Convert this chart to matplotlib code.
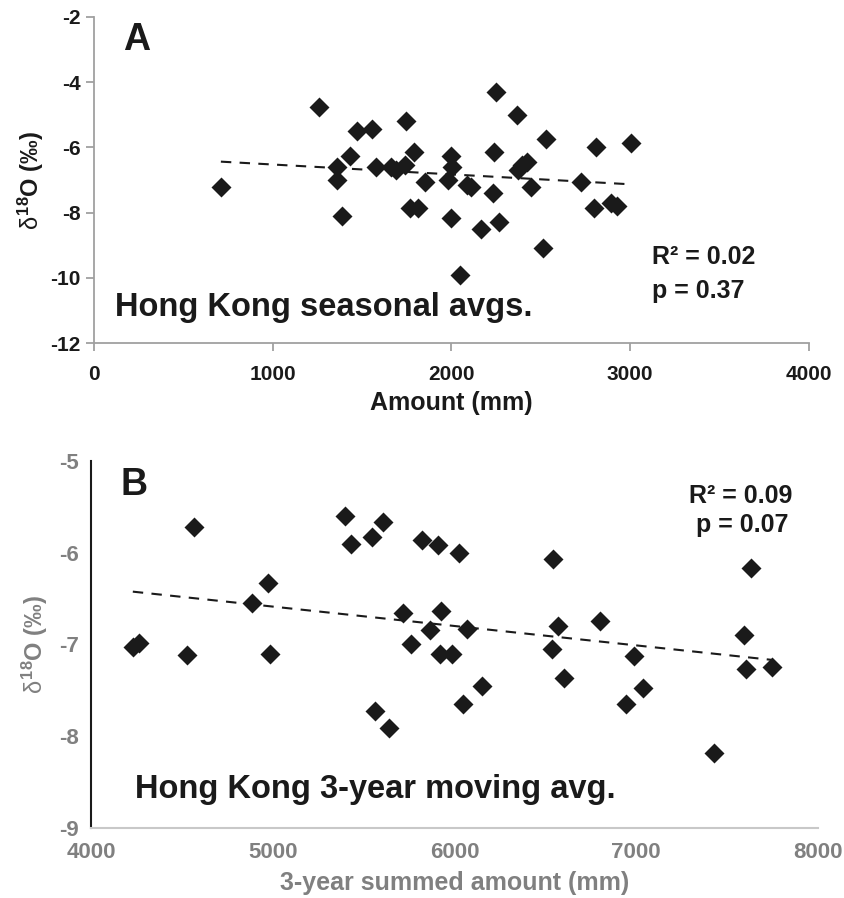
import numpy as np
import matplotlib
matplotlib.use("Agg")
import matplotlib.pyplot as plt

# Panel A: seasonal averages
amount_a = [710, 1260, 1470, 1555, 1745, 1430, 1360, 1360, 1390, 1580,
            1660, 1690, 1740, 1790, 1770, 1810, 1850, 1995, 2005, 1980,
            1995, 2085, 2110, 2050, 2165, 2250, 2240, 2235, 2265, 2365,
            2370, 2395, 2420, 2445, 2530, 2510, 2725, 2810, 2800, 2890,
            2925, 3005]
d18o_a = [-7.2, -4.75, -5.5, -5.45, -5.2, -6.25, -6.6, -7.0, -8.1, -6.6,
          -6.6, -6.7, -6.55, -6.15, -7.85, -7.85, -7.05, -6.25, -6.6, -7.0,
          -8.15, -7.15, -7.2, -9.9, -8.5, -4.3, -6.15, -7.4, -8.3, -5.0,
          -6.7, -6.55, -6.45, -7.2, -5.75, -9.1, -7.05, -6.0, -7.85, -7.7,
          -7.8, -5.85]

# Panel B: 3-year moving average
amount_b = [4230, 4265, 4565, 4530, 4885, 4975, 4985, 5400, 5430, 5545,
            5605, 5565, 5640, 5715, 5760, 5820, 5910, 6025, 6540, 7630,
            5925, 5865, 5920, 5985, 6070, 6150, 6045, 6570, 6535, 6605,
            6800, 6985, 7035, 6945, 7425, 7595, 7605, 7745]
d18o_b = [-7.03, -6.98, -5.72, -7.12, -6.55, -6.33, -7.1, -5.6, -5.9, -5.83,
          -5.66, -7.72, -7.91, -6.66, -6.99, -5.86, -5.92, -6.0, -6.07, -6.17,
          -6.63, -6.84, -7.1, -7.1, -6.83, -7.45, -7.65, -6.8, -7.05, -7.37,
          -6.74, -7.13, -7.47, -7.65, -8.18, -6.9, -7.27, -7.25]

stats_a = ["R² = 0.02", "p = 0.37"]
stats_b = ["R² = 0.09", "p = 0.07"]

plt.rcParams["font.family"] = ["Liberation Sans", "DejaVu Sans"]
plt.rcParams["axes.unicode_minus"] = False
plt.rcParams["mathtext.fontset"] = "custom"
plt.rcParams["mathtext.rm"] = "Liberation Sans"
plt.rcParams["mathtext.it"] = "Liberation Sans"
plt.rcParams["mathtext.bf"] = "Liberation Sans:bold"

INK = "#1a1a1a"
ylab = r"$\delta^{\mathbf{18}}$O (‰)"

fig = plt.figure(figsize=(8.45, 8.98), dpi=100)

# ---- Panel A ----
ax1 = fig.add_axes([0.1112, 0.618, 0.8462, 0.3631])
ax1.plot(amount_a, d18o_a, "D", color=INK, ms=10.5, mec="none")
xa = np.array(amount_a, dtype=float)
ka, ba = np.polyfit(xa, d18o_a, 1)
xx = np.array([xa.min(), xa.max()])
ax1.plot(xx, ka * xx + ba, "--", color=INK, lw=1.5, dashes=(5, 4))
ax1.set_xlim(0, 4000)
ax1.set_ylim(-12, -2)
ax1.set_xticks([0, 1000, 2000, 3000, 4000])
ax1.set_yticks([-12, -10, -8, -6, -4, -2])
for s in ["top", "right"]:
    ax1.spines[s].set_visible(False)
for s in ["left", "bottom"]:
    ax1.spines[s].set_color("#a0a0a0")
    ax1.spines[s].set_linewidth(1.3)
ax1.tick_params(axis="both", color="#a0a0a0", width=1.3, length=6, direction="out")
ax1.tick_params(axis="x", pad=10)
for lab in ax1.get_xticklabels() + ax1.get_yticklabels():
    lab.set_fontweight("bold")
    lab.set_fontsize(15)
    lab.set_color(INK)
ax1.set_xlabel("Amount (mm)", fontweight="bold", fontsize=18, color=INK, labelpad=5)
ax1.set_ylabel(ylab, fontweight="bold", fontsize=17, color=INK, labelpad=3)
ax1.text(0.04, 0.93, "A", transform=ax1.transAxes, fontsize=27, fontweight="bold",
         color=INK, va="center", ha="left")
ax1.text(0.03, 0.11, "Hong Kong seasonal avgs.", transform=ax1.transAxes,
         fontsize=23.5, fontweight="bold", color=INK, va="center", ha="left")
ax1.text(0.781, 0.265, stats_a[0], transform=ax1.transAxes, fontsize=18,
         fontweight="bold", color=INK, va="center", ha="left")
ax1.text(0.780, 0.16, stats_a[1], transform=ax1.transAxes, fontsize=18,
         fontweight="bold", color=INK, va="center", ha="left")

# ---- Panel B ----
ax2 = fig.add_axes([0.1077, 0.078, 0.8604, 0.4087])
ax2.plot(amount_b, d18o_b, "D", color=INK, ms=10.5, mec="none")
xb = np.array(amount_b, dtype=float)
kb, bb = np.polyfit(xb, d18o_b, 1)
xx = np.array([xb.min(), xb.max()])
ax2.plot(xx, kb * xx + bb, "--", color=INK, lw=1.5, dashes=(5, 4))
ax2.set_xlim(4000, 8000)
ax2.set_ylim(-9, -5)
ax2.set_xticks([4000, 5000, 6000, 7000, 8000])
ax2.set_yticks([-9, -8, -7, -6, -5])
for s in ["top", "right"]:
    ax2.spines[s].set_visible(False)
ax2.spines["left"].set_color(INK)
ax2.spines["left"].set_linewidth(1.5)
ax2.spines["bottom"].set_color("#c8c8c8")
ax2.spines["bottom"].set_linewidth(1.5)
ax2.tick_params(axis="both", length=0)
ax2.tick_params(axis="x", pad=10)
ax2.tick_params(axis="y", pad=9)
for lab in ax2.get_xticklabels() + ax2.get_yticklabels():
    lab.set_fontweight("bold")
    lab.set_fontsize(16)
    lab.set_color("#808080")
ax2.set_xlabel("3-year summed amount (mm)", fontweight="bold",
               fontsize=18, color="#808080", labelpad=6)
ax2.set_ylabel(ylab, fontweight="bold", fontsize=17, color="#808080", labelpad=6)
ax2.text(0.04, 0.935, "B", transform=ax2.transAxes, fontsize=27, fontweight="bold",
         color=INK, va="center", ha="left")
ax2.text(0.06, 0.105, "Hong Kong 3-year moving avg.", transform=ax2.transAxes,
         fontsize=23.5, fontweight="bold", color=INK, va="center", ha="left")
ax2.text(0.965, 0.905, stats_b[0], transform=ax2.transAxes, fontsize=18,
         fontweight="bold", color=INK, va="center", ha="right")
ax2.text(0.96, 0.825, stats_b[1], transform=ax2.transAxes, fontsize=18,
         fontweight="bold", color=INK, va="center", ha="right")

fig.savefig("out.png", dpi=100)
